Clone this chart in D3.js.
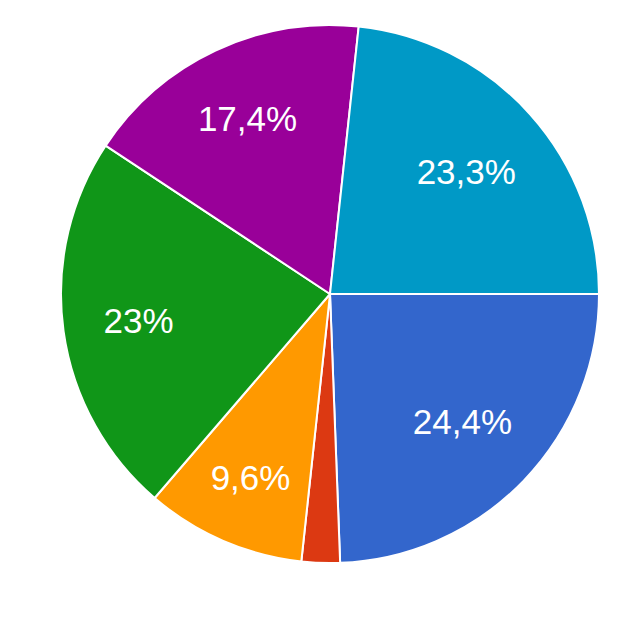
<!DOCTYPE html>
<html>
<head>
<meta charset="utf-8">
<script src="https://cdn.jsdelivr.net/npm/d3@7"></script>
<style>
html,body{margin:0;padding:0;background:#fff;}
svg{display:block;}
</style>
</head>
<body>
<svg id="chart" width="642" height="642"></svg>
<script>
const categories = ["A", "B", "C", "D", "E", "F"];
const values = [24.4, 2.3, 9.6, 23, 17.4, 23.3];
const colors = ["#3366cc", "#dc3912", "#ff9900", "#109618", "#990099", "#0099c6"];

const W = 642, H = 642;
const cx = 330, cy = 294, r = 269;
const fontSize = 35;

const svg = d3.select("#chart");
const g = svg.append("g").attr("transform", `translate(${cx},${cy})`);

const data = categories.map((c, i) => ({cat: c, value: values[i], color: colors[i]}));
const pie = d3.pie().value(d => d.value).sort(null)
  .startAngle(Math.PI / 2).endAngle(Math.PI / 2 + 2 * Math.PI);
const arc = d3.arc().innerRadius(0).outerRadius(r);
const arcs = pie(data);

g.selectAll("path.slice").data(arcs).enter().append("path")
  .attr("class", "slice")
  .attr("d", arc)
  .attr("fill", d => d.data.color)
  .attr("stroke", "#fff")
  .attr("stroke-width", 2)
  .attr("stroke-linejoin", "round");

const total = d3.sum(values);
const fmt = v => {
  const p = Math.round(v / total * 1000) / 10;
  return (Number.isInteger(p) ? p.toFixed(0) : p.toFixed(1)).replace(".", ",") + "%";
};

const D = r * 0.855;
const labels = g.selectAll("text.lbl").data(arcs.filter(d => d.data.value / total > 0.05)).enter().append("text")
  .attr("class", "lbl")
  .attr("font-family", "Arial, 'Liberation Sans', sans-serif")
  .attr("font-size", fontSize)
  .attr("fill", "#fff")
  .attr("text-anchor", "middle")
  .text(d => fmt(d.data.value));

labels.each(function(d) {
  const w = this.getComputedTextLength();
  const h = fontSize * 0.74;
  const a = (d.startAngle + d.endAngle) / 2;
  const ux = Math.sin(a), uy = -Math.cos(a);
  const sx = Math.sign(ux) * w / 2, sy = Math.sign(uy) * h / 2;
  // solve |t*u + s|^2 = D^2
  const B = 2 * (ux * sx + uy * sy);
  const C = sx * sx + sy * sy - D * D;
  const t = (-B + Math.sqrt(B * B - 4 * C)) / 2;
  const x = t * ux, y = t * uy;
  d3.select(this).attr("x", x).attr("y", y + fontSize * 0.358);
});
</script>
</body>
</html>
